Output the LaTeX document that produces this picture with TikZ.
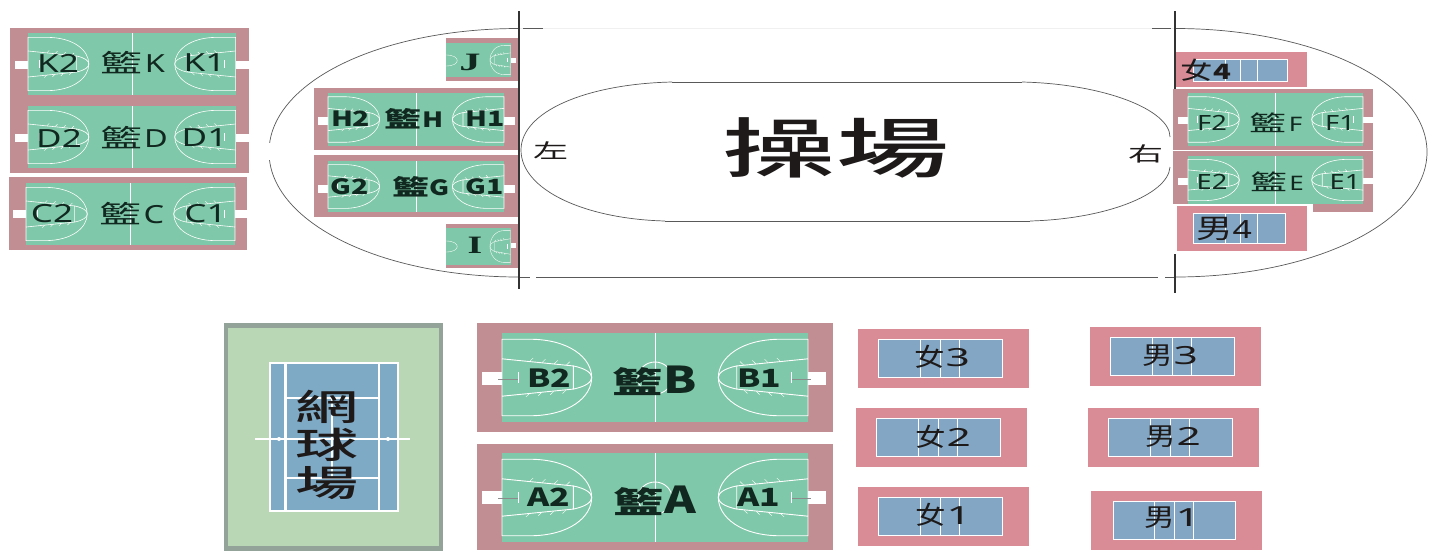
\documentclass[tikz,border=0pt]{standalone}
\usepackage{fontspec}
\usepackage{graphicx}
\setmainfont{Noto Sans}
\newfontfamily\cjk{Noto Sans CJK TC}
\newfontfamily\cjkm{Noto Sans CJK TC Medium}
\newfontfamily\serifl{Liberation Serif}
\definecolor{brick}{HTML}{C18E94}
\definecolor{rose}{HTML}{D98C96}
\definecolor{turf}{HTML}{7FC8A9}
\definecolor{sky}{HTML}{82A6C4}
\definecolor{tennisbg}{HTML}{B9D6B5}
\definecolor{tennisedge}{HTML}{93A39A}
\definecolor{tennisblue}{HTML}{7FAAC6}
\definecolor{inkk}{HTML}{1E1A1A}
\definecolor{courtink}{HTML}{10281F}
\def\cwid{0.6pt}
\tikzset{
  trackline/.style={draw=black!65,line width=0.7pt},
  post/.style={draw=black!80,line width=1.9pt},
  cline/.style={draw=white,line width=\cwid},
  lbl/.style={inner sep=0pt,outer sep=0pt,text=courtink}
}
\newcommand{\sx}[3]{\scalebox{#1}[1]{\fontsize{#2}{#2}\selectfont #3}}
\newcommand{\tag}[6]{\node[lbl] (#1) at (#2,#3) {\sx{#5}{#4}{#6}};}
% basketball word: name x y cjksize lettersize letter
\newcommand{\kw}[6]{\node[lbl] (#1) at (#2,#3) {\sx{1.68}{#4}{\cjk 籃}\hspace{2pt}\sx{1.3}{#5}{#6}};}
\newcommand{\kwb}[6]{\node[lbl] (#1) at (#2,#3) {\sx{1.68}{#4}{\cjk\bfseries 籃}\hspace{1pt}\sx{1.3}{#5}{\cjk\bfseries #6}};}
\newcommand{\vw}[5]{\node[lbl,text=inkk] (#1) at (#2,#3) {\sx{1.22}{25}{\cjk #4}\hspace{1pt}\sx{1.7}{25}{#5}};}
\newcommand{\halfc}[4]{%
  \begin{scope}[shift={(#1,#2)},x=#3pt,y=#4pt]
    \draw[cline] (0,.07) -- (.09,.07) .. controls (.22,.07) and (.293,.28) .. (.293,.5)
       .. controls (.293,.72) and (.22,.93) .. (.09,.93) -- (0,.93) -- cycle;
    \draw[cline] (0,.29) -- (.233,.37) -- (.233,.63) -- (0,.71);
    \draw[cline] (.233,.37) .. controls (.275,.4) and (.293,.45) .. (.293,.5)
       .. controls (.293,.55) and (.275,.6) .. (.233,.63);
    \foreach \t in {.09,.13,.17,.21}{
      \draw[cline,line width=.4pt] (\t,.29+\t*.34) -- (\t+.012,.25+\t*.34);
      \draw[cline,line width=.4pt] (\t,.71-\t*.34) -- (\t-.012,.75-\t*.34);
    }
    \draw[cline] (.053,.44) -- (.053,.56);
  \end{scope}}
\newcommand{\court}[4]{%
  \pgfmathsetmacro\cw{#3-#1}\pgfmathsetmacro\chh{#4-#2}\pgfmathsetmacro\cm{(#1+#3)/2}
  \fill[turf] (#1,#2) rectangle (#3,#4);
  \draw[cline] (\cm,#2) -- (\cm,#4);
  \halfc{#1}{#2}{\cw}{-\chh}
  \halfc{#3}{#2}{-\cw}{-\chh}}
\newcommand{\vcourt}[8]{%
  \fill[rose] (#1,#2) rectangle (#3,#4);
  \pgfmathsetmacro\ww{#7-#5}
  \draw[fill=sky,draw=white,line width=1pt] (#5,#6) rectangle (#7,#8);
  \foreach \f in {.34,.5,.66}{\draw[draw=white,line width=1pt] ({#5+\f*\ww},#6) -- ({#5+\f*\ww},#8);}}
\newcommand{\gap}[4]{\fill[white] (#1,#2) rectangle (#3,#4);}
\begin{document}
\begin{tikzpicture}[x=1pt,y=-1pt]
\useasboundingbox (0,0) rectangle (1439,552);
\fill[white] (0,0) rectangle (1439,552);
% ---- track
\draw[trackline] (519,28.5) .. controls (380,28.5) and (269,82) .. (269,152) .. controls (269,222) and (380,277) .. (519,277);
\draw[trackline] (1175,28.5) .. controls (1314,28.5) and (1427,82) .. (1427,152) .. controls (1427,222) and (1314,277) .. (1175,277);
\fill[white] (266,143) rectangle (272,160);
\draw[black!6,line width=.6pt] (519,28.5) -- (1175,28.5);
\draw[trackline] (523,28.5) -- (543,28.5) (1152,28.5) -- (1171,28.5);
\draw[trackline] (519,277) -- (530,277) (1165,277) -- (1175,277);
\draw[trackline,line width=1pt] (536,277) -- (1158,277);
\draw[trackline] (672,82) -- (1022,82);
\draw[trackline] (665,221) -- (1030,221);
\draw[trackline] (672,82) .. controls (585,84) and (521,112) .. (521,150) .. controls (521,190) and (585,219) .. (665,221);
\draw[trackline] (1022,82) .. controls (1105,84) and (1170,110) .. (1170,137);
\draw[trackline] (1170,167) .. controls (1168,195) and (1105,219) .. (1030,221);
\node[lbl,text=inkk] (field) at (836,148) {\sx{1.74}{65}{\cjkm 操場}};
\node[lbl,text=inkk] (lft) at (551,151) {\sx{1.75}{20}{\cjk 左}};
\node[lbl,text=inkk] (rgt) at (1146,154) {\sx{1.75}{20}{\cjk 右}};
% ---- K D C
\fill[brick] (10,28) rectangle (248.5,173);
\fill[brick] (8.5,177) rectangle (247,250);
\court{28}{33}{235.6}{95}
\court{28}{106}{235.6}{168}
\court{26}{183}{235}{245}
\gap{15}{61}{28}{69}\gap{235.6}{61}{248.5}{69}
\gap{15}{134}{28}{142}\gap{235.6}{134}{248.5}{142}
\gap{13}{210}{26}{218}\gap{235}{210}{247}{218}
\tag{k2}{58}{63}{25}{1.4}{K2}\kw{kk}{133}{63}{25}{25}{K}\tag{k1}{204.5}{63}{25}{1.4}{K1}
\tag{d2}{59}{138}{25}{1.4}{D2}\kw{dd}{134}{138}{25}{25}{D}\tag{d1}{204.5}{138}{25}{1.4}{D1}
\tag{c2}{52}{214}{25}{1.4}{C2}\kw{cc}{132}{214}{25}{25}{C}\tag{c1}{205.5}{214}{25}{1.4}{C1}
% ---- H G J I
\fill[brick] (314,88) rectangle (519,150);
\fill[brick] (314,155) rectangle (519,217);
\court{328}{93}{504}{146}
\court{328}{161}{504}{212}
\gap{318}{117}{328}{125}\gap{504}{117}{515}{125}
\gap{318}{185}{328}{193}\gap{504}{185}{515}{193}
\tag{h2}{350.6}{119}{21}{1.35}{\cjk\bfseries H2}\kwb{hh}{414}{119}{22}{21}{H}\tag{h1}{485}{119}{21}{1.35}{\cjk\bfseries H1}
\tag{g2}{350}{187}{21}{1.35}{\cjk\bfseries G2}\kwb{gg}{421}{187}{22}{21}{G}\tag{g1}{485}{187}{21}{1.35}{\cjk\bfseries G1}
\fill[brick] (446,38) rectangle (519,81);
\fill[brick] (446,224) rectangle (519,268);
\fill[turf] (446,43) rectangle (510.5,77);
\fill[turf] (446,228) rectangle (510.5,265);
\begingroup
\def\cwid{0.35pt}
\halfc{510.5}{43}{-70}{-34}
\halfc{510.5}{228}{-70}{-37}
\draw[cline] (446,55) .. controls (461,55) and (461,66) .. (446,66);
\draw[cline] (446,241) .. controls (461,241) and (461,252) .. (446,252);
\endgroup
\gap{510.5}{58}{516}{63}\gap{510.5}{243}{516}{248}
\tag{jj}{470}{62}{25}{1.7}{\serifl\bfseries J}
\tag{ii}{475}{245}{25}{1.5}{\serifl\bfseries I}
% ---- right block
\fill[rose] (1174,52) rectangle (1307,87);
\draw[fill=sky,draw=white,line width=.8pt] (1193,59) rectangle (1287,81);
\draw[draw=white,line width=1pt] (1225,59) -- (1225,81) (1240,59) -- (1240,81) (1257,59) -- (1257,81);
\fill[brick] (1173,89) rectangle (1373,150);
\fill[brick] (1173,151) rectangle (1373,204);
\fill[brick] (1313,204) rectangle (1373,212);
\court{1188}{93}{1363}{146}
\court{1188}{156}{1363}{204}
\gap{1178}{117}{1188}{124}\gap{1363}{117}{1373}{123}
\gap{1178}{178}{1188}{185}\gap{1363}{178}{1373}{184}
\fill[white] (1173,204) rectangle (1313,206);
\fill[rose] (1177,206) rectangle (1307,251);
\draw[fill=sky,draw=white,line width=.8pt] (1193,213) rectangle (1285,243);
\draw[draw=white,line width=1pt] (1225,213) -- (1225,243) (1240,213) -- (1240,243) (1257,213) -- (1257,243);
\node[lbl,text=inkk] (w4) at (1206,70) {\sx{1.35}{24}{\cjk 女}\sx{1.4}{21}{\cjk\bfseries 4}};
\node[lbl,text=inkk] (m4) at (1224,229) {\sx{1.35}{27}{\cjk 男}\sx{1.35}{25}{4}};
\tag{f2}{1212}{123}{21}{1.3}{F2}\kw{ff}{1276}{123}{22}{20}{F}\tag{f1}{1340}{123}{21}{1.3}{F1}
\tag{e2}{1212}{182}{21}{1.3}{E2}\kw{ee}{1277}{182}{22}{20}{E}\tag{e1}{1345}{182}{21}{1.3}{E1}
% ---- posts
\draw[post] (519,11) -- (519,289);
\draw[post] (1175,11) -- (1175,89);
\draw[post] (1175,254) -- (1175,293);
% ---- tennis
\draw[fill=tennisbg,draw=tennisedge,line width=4.5pt] (226,325.5) rectangle (441,548.5);
\draw[fill=tennisblue,draw=white,line width=2.6pt] (270,363) rectangle (398,511);
\draw[white,line width=2.6pt] (285.5,363) -- (285.5,511) (379,363) -- (379,511);
\draw[white,line width=1.3pt] (285.5,398) -- (379,398) (285.5,478) -- (379,478) (332,398) -- (332,478);
\draw[white,line width=1.6pt] (255,439) -- (410,439);
\fill[white] (279,439) circle (2) (388,439) circle (2);
\node[lbl,text=inkk] (tn1) at (327,407) {\sx{1.75}{36}{\cjkm 網}};
\node[lbl,text=inkk] (tn2) at (327,445) {\sx{1.75}{36}{\cjkm 球}};
\node[lbl,text=inkk] (tn3) at (327,483) {\sx{1.75}{36}{\cjkm 場}};
% ---- big basketball
\fill[brick] (477,323) rectangle (832.5,432);
\fill[brick] (477,444) rectangle (832.5,550);
\begingroup
\def\cwid{0.9pt}
\court{502}{333}{808}{422}
\court{502}{453}{808}{542}
\draw[cline] (655,378) ellipse (17 and 16);
\draw[cline] (655,498) ellipse (17 and 16);
\endgroup
\gap{482}{372}{502}{385}\gap{808}{372}{826}{385}
\gap{482}{491}{502}{504}\gap{808}{491}{826}{504}
\draw[black!45,line width=.8pt] (498,379) -- (518,379) (792,379) -- (811,379) (498,498) -- (518,498) (792,498) -- (811,498);
\tag{b2}{549}{378}{25}{1.35}{\cjk\bfseries B2}\kwb{bb}{655}{381}{30}{37}{B}\tag{b1}{759}{378}{25}{1.35}{\cjk\bfseries B1}
\tag{a2}{549}{497}{25}{1.35}{\cjk\bfseries A2}\kwb{aa}{655}{501}{30}{37}{A}\tag{a1}{759}{497}{25}{1.35}{\cjk\bfseries A1}
% ---- volleyball
\vcourt{858}{329}{1029}{388}{878}{339}{1002}{377}
\vcourt{1090}{327}{1261}{386}{1110}{337}{1234}{375}
\vcourt{856}{408}{1027}{467}{876}{418}{1000}{456}
\vcourt{1088}{408}{1259}{467}{1108}{418}{1232}{456}
\vcourt{858}{487}{1029}{546}{878}{497}{1002}{535}
\vcourt{1091}{491}{1262}{550}{1113}{501}{1235}{539}
\vw{w3}{942}{357}{女}{3}
\vw{m3}{1170}{356}{男}{3}
\vw{w2}{943}{437}{女}{2}
\vw{m2}{1173}{437}{男}{2}
\vw{w1}{943}{515}{女}{1}
\vw{m1}{1172}{518}{男}{1}
\end{tikzpicture}
\end{document}
